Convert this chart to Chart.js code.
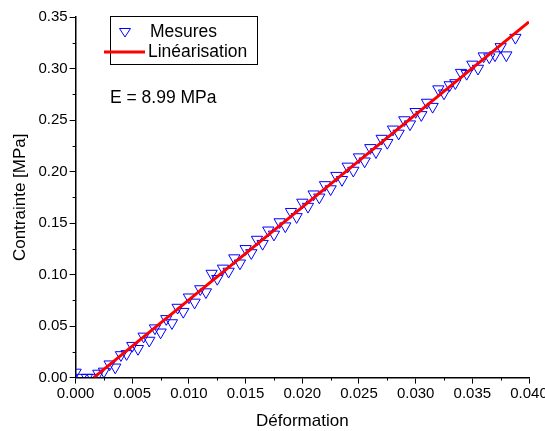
<!DOCTYPE html>
<html lang="fr">
<head>
  <meta charset="UTF-8" />
  <title>Contrainte - Déformation</title>
  <script src="https://cdn.jsdelivr.net/npm/chart.js"></script>
  <style>
    html, body { margin: 0; padding: 0; background: #fff; }
    #wrap { width: 545px; height: 431px; }
  </style>
</head>
<body>
  <div id="wrap"><canvas id="stressChart" width="545" height="431"></canvas></div>

  <script>
  // measured points (strain, stress in MPa)
  const strain = [
    0.0000, 0.0005, 0.0010, 0.0015, 0.0020, 0.0025, 0.0030, 0.0035, 0.0040, 0.0045,
    0.0050, 0.0055, 0.0060, 0.0065, 0.0070, 0.0075, 0.0080, 0.0085, 0.0090, 0.0095,
    0.0100, 0.0105, 0.0110, 0.0115, 0.0120, 0.0125, 0.0130, 0.0135, 0.0140, 0.0145,
    0.0150, 0.0155, 0.0160, 0.0165, 0.0170, 0.0175, 0.0180, 0.0185, 0.0190, 0.0195,
    0.0200, 0.0205, 0.0210, 0.0215, 0.0220, 0.0225, 0.0230, 0.0235, 0.0240, 0.0245,
    0.0250, 0.0255, 0.0260, 0.0265, 0.0270, 0.0275, 0.0280, 0.0285, 0.0290, 0.0295,
    0.0300, 0.0305, 0.0310, 0.0315, 0.0320, 0.0325, 0.0330, 0.0335, 0.0340, 0.0345,
    0.0350, 0.0355, 0.0360, 0.0365, 0.0370, 0.0375, 0.0380, 0.0388
  ];
  const stress = [
    0.005, 0.000, 0.000, 0.000, 0.004, 0.006, 0.013, 0.010, 0.022, 0.023,
    0.031, 0.028, 0.040, 0.036, 0.048, 0.044, 0.057, 0.053, 0.068, 0.064,
    0.078, 0.073, 0.086, 0.083, 0.101, 0.096, 0.106, 0.103, 0.116, 0.111,
    0.125, 0.121, 0.134, 0.130, 0.143, 0.139, 0.151, 0.147, 0.161, 0.156,
    0.170, 0.166, 0.178, 0.175, 0.187, 0.183, 0.196, 0.192, 0.205, 0.201,
    0.214, 0.210, 0.223, 0.219, 0.232, 0.228, 0.241, 0.237, 0.250, 0.246,
    0.258, 0.255, 0.267, 0.263, 0.280, 0.276, 0.284, 0.286, 0.296, 0.295,
    0.304, 0.300, 0.312, 0.311, 0.313, 0.321, 0.313, 0.330
  ];

  // linear fit end points
  const fitStrain = [0.0016, 0.0400];
  const fitStress = [0.0000, 0.3453];

  const xTicks = [0.000, 0.005, 0.010, 0.015, 0.020, 0.025, 0.030, 0.035, 0.040];
  const yTicks = [0.00, 0.05, 0.10, 0.15, 0.20, 0.25, 0.30, 0.35];

  const modulusText = "E = 8.99 MPa";

  const FONT = "'Liberation Sans', Arial, sans-serif";

  // legend box, label and minor ticks drawn on top
  const extras = {
    id: "extras",
    afterDraw(chart) {
      const ctx = chart.ctx;
      const xs = chart.scales.x, ys = chart.scales.y;
      ctx.save();
      ctx.strokeStyle = "#000";
      ctx.lineWidth = 1;

      // minor ticks
      for (let i = 0; i < xTicks.length - 1; i++) {
        const px = Math.round(xs.getPixelForValue((xTicks[i] + xTicks[i + 1]) / 2)) + 0.5;
        ctx.beginPath();
        ctx.moveTo(px, ys.bottom);
        ctx.lineTo(px, ys.bottom + 3);
        ctx.stroke();
      }
      for (let i = 0; i < yTicks.length - 1; i++) {
        const py = Math.round(ys.getPixelForValue((yTicks[i] + yTicks[i + 1]) / 2)) + 0.5;
        ctx.beginPath();
        ctx.moveTo(xs.left - 3, py);
        ctx.lineTo(xs.left, py);
        ctx.stroke();
      }

      // legend frame
      ctx.strokeRect(110.5, 16.5, 147, 48);
      ctx.font = "17.5px " + FONT;
      ctx.fillStyle = "#000";
      ctx.textBaseline = "middle";
      ctx.fillText("Mesures", 150, 32);
      ctx.fillText("Linéarisation", 148, 52);

      // legend marker
      ctx.strokeStyle = "#0000ff";
      ctx.lineWidth = 1;
      ctx.beginPath();
      ctx.moveTo(119.5, 28.5);
      ctx.lineTo(130.5, 28.5);
      ctx.lineTo(125, 37);
      ctx.closePath();
      ctx.stroke();

      // legend line
      ctx.strokeStyle = "#ff0000";
      ctx.lineWidth = 3;
      ctx.beginPath();
      ctx.moveTo(104, 52);
      ctx.lineTo(145, 52);
      ctx.stroke();

      ctx.fillStyle = "#000";
      ctx.fillText(modulusText, 110, 98);
      ctx.restore();
    }
  };

  new Chart(document.getElementById("stressChart"), {
    type: "scatter",
    data: {
      datasets: [
        {
          label: "Mesures",
          data: strain.map((x, i) => ({ x: x, y: stress[i] })),
          pointStyle: "triangle",
          rotation: 180,
          radius: 6.5,
          borderColor: "#0000ff",
          backgroundColor: "rgba(0,0,0,0)",
          borderWidth: 1,
          showLine: false,
          order: 2
        },
        {
          label: "Linéarisation",
          type: "line",
          data: fitStrain.map((x, i) => ({ x: x, y: fitStress[i] })),
          borderColor: "#ff0000",
          borderWidth: 3,
          pointRadius: 0,
          fill: false,
          order: 1
        }
      ]
    },
    options: {
      responsive: false,
      animation: false,
      layout: { padding: { left: 10, right: 16, top: 17, bottom: -1 } },
      plugins: {
        legend: { display: false },
        tooltip: { enabled: false }
      },
      scales: {
        x: {
          type: "linear",
          min: 0,
          max: 0.04,
          afterBuildTicks: (axis) => { axis.ticks = xTicks.map(v => ({ value: v })); },
          // let the last label run past the edge like the original
          afterFit: (axis) => { axis.paddingRight = 0; },
          ticks: {
            color: "#000",
            font: { family: FONT, size: 15 },
            padding: 1,
            maxRotation: 0,
            callback: (v) => v.toFixed(3)
          },
          grid: { drawOnChartArea: false, tickLength: 6, color: "#000", tickColor: "#000" },
          border: { color: "#000", width: 1.5 },
          title: {
            display: true,
            text: "Déformation",
            color: "#000",
            font: { family: FONT, size: 17 },
            padding: { top: 8, bottom: 0 }
          }
        },
        y: {
          type: "linear",
          min: 0,
          max: 0.35,
          afterBuildTicks: (axis) => { axis.ticks = yTicks.map(v => ({ value: v })); },
          ticks: {
            color: "#000",
            font: { family: FONT, size: 15 },
            padding: 2,
            callback: (v) => v.toFixed(2)
          },
          grid: { drawOnChartArea: false, tickLength: 6, color: "#000", tickColor: "#000" },
          border: { color: "#000", width: 1.5 },
          title: {
            display: true,
            text: "Contrainte [MPa]",
            color: "#000",
            font: { family: FONT, size: 17 },
            padding: { top: 0, bottom: 6 }
          }
        }
      }
    },
    plugins: [extras]
  });
  </script>
</body>
</html>
